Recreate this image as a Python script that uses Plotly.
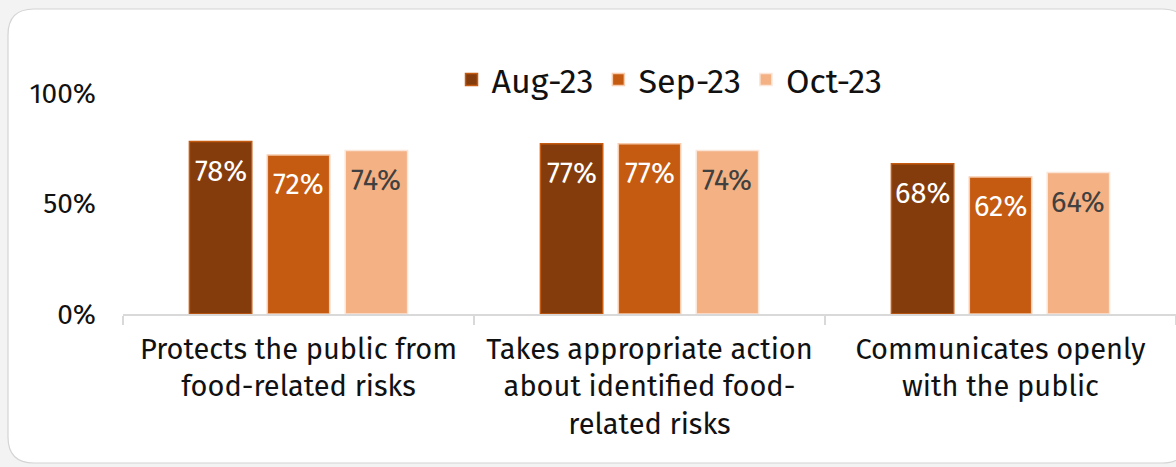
import plotly.graph_objects as go

# ---- data ----
categories = [
    "Protects the public from<br>food-related risks",
    "Takes appropriate action<br>about identified food-<br>related risks",
    "Communicates openly<br>with the public",
]
series_names = ["Aug-23", "Sep-23", "Oct-23"]
aug_vals = [0.78, 0.77, 0.68]
sep_vals = [0.72, 0.77, 0.62]
oct_vals = [0.74, 0.74, 0.64]
y_tick_vals = [0, 0.5, 1.0]
y_tick_text = ["0%", "50%", "100%"]

# ---- styles ----
fill_colors = ["#843c0c", "#c55a11", "#f4b183"]
edge_colors = ["#c55a11", "#f8cbad", "#fbe5d6"]
label_colors = ["#ffffff", "#ffffff", "#404040"]
FONT = "Fira Sans, Noto Sans, sans-serif"
W, H = 1176, 467
ML, MR, MT, MB = 123, 0, 93, 153
BARGAP = 0.334
BARGROUPGAP = 0.2

series_vals = [aug_vals, sep_vals, oct_vals]

fig = go.Figure()
for name, vals, fc, ec in zip(series_names, series_vals, fill_colors, edge_colors):
    fig.add_trace(go.Bar(
        x=categories, y=vals, name=name,
        marker=dict(color=fc, line=dict(color=ec, width=1.5)),
        hoverinfo="skip",
    ))

# data labels (inside, near top of bar)
slot = (1 - BARGAP) / len(series_names)
annotations = []
for j, (vals, lc) in enumerate(zip(series_vals, label_colors)):
    for i, v in enumerate(vals):
        annotations.append(dict(
            x=i + (j - 1) * slot, y=v, xref="x", yref="y",
            text=f"{round(v * 100)}%", showarrow=False,
            yanchor="middle", yshift=-30,
            font=dict(family=FONT, size=29, color=lc),
        ))

# card background with rounded corners, in paper coords
pw = W - ML - MR
ph = H - MT - MB
def px(x):
    return (x - ML) / pw
def py(y):
    return (H - MB - y) / ph
L, T, R, B, r = 8, 9, 1188, 463, 26
path = (
    f"M{px(L + r)},{py(T)} L{px(R - r)},{py(T)} Q{px(R)},{py(T)} {px(R)},{py(T + r)} "
    f"L{px(R)},{py(B - r)} Q{px(R)},{py(B)} {px(R - r)},{py(B)} "
    f"L{px(L + r)},{py(B)} Q{px(L)},{py(B)} {px(L)},{py(B - r)} "
    f"L{px(L)},{py(T + r)} Q{px(L)},{py(T)} {px(L + r)},{py(T)} Z"
)

fig.update_layout(
    width=W, height=H,
    margin=dict(l=ML, r=MR, t=MT, b=MB, pad=0),
    paper_bgcolor="#f3f3f3",
    plot_bgcolor="rgba(0,0,0,0)",
    barmode="group", bargap=BARGAP, bargroupgap=BARGROUPGAP,
    font=dict(family=FONT, size=29, color="#111111"),
    showlegend=True,
    legend=dict(
        orientation="h", x=0.519, y=1.059, xanchor="center", yanchor="middle",
        font=dict(family=FONT, size=34, color="#111111"),
        bgcolor="rgba(0,0,0,0)", itemclick=False, itemdoubleclick=False,
    ),
    shapes=[dict(
        type="path", path=path, xref="paper", yref="paper", layer="below",
        fillcolor="#ffffff", line=dict(color="#d4d4d4", width=1.2),
    )],
    annotations=annotations,
    xaxis=dict(
        showgrid=False, showline=True, linecolor="#d9d9d9", linewidth=1.5,
        ticks="outside", tickson="boundaries", ticklen=9, tickcolor="#d9d9d9",
        tickwidth=1.5, ticklabelstandoff=8,
        tickfont=dict(family=FONT, size=29, color="#111111"),
        fixedrange=True,
    ),
    yaxis=dict(
        range=[0, 1.0], showgrid=False, zeroline=False, showline=False,
        tickvals=y_tick_vals, ticktext=y_tick_text, ticks="",
        ticklabelstandoff=26,
        tickfont=dict(family=FONT, size=28, color="#111111"),
        fixedrange=True,
    ),
)

fig.write_html(
    "out.html",
    config={"displayModeBar": False},
    post_script="document.body.style.margin='0';document.body.style.background='#f3f3f3';",
)
